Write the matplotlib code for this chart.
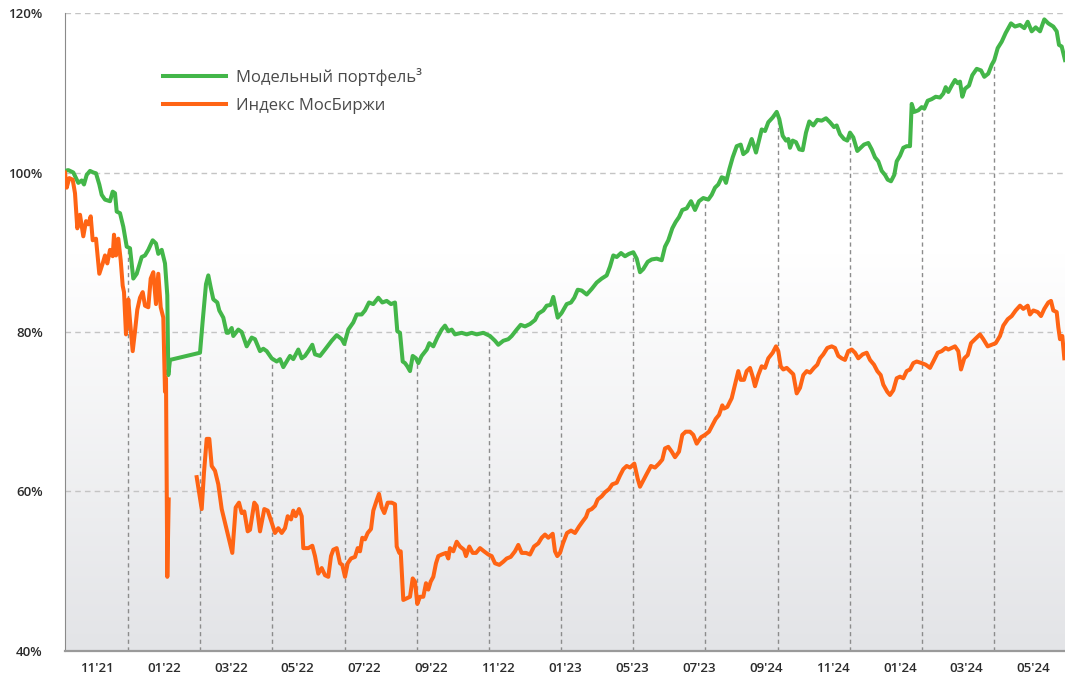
import numpy as np
import matplotlib.pyplot as plt
from matplotlib.colors import LinearSegmentedColormap

# time index (0..1000 across the chart) and values in %
model_t = [0, 3.3, 8.3, 13.3, 16.7, 19, 21.7, 25, 28.3, 31, 34.3, 36.7, 40, 45, 47.7, 50,
           51.7, 55, 58.3, 61.7, 65, 68.3, 71.7, 76.7, 80, 83.3, 87.7, 91, 93.3, 96.7, 100,
           102.3, 103.3, 105, 135, 137.7, 141, 143.3, 145.7, 148.3, 152.3, 154.3, 158.3,
           161.7, 163.3, 166.7, 168.3, 173.3, 176.7, 181.7, 186.7, 190, 195, 198.3, 201.7,
           206.7, 211.7, 215, 218.3, 221.7, 225, 228.3, 233.3, 236.7, 240, 243.3, 247.3,
           250, 255, 260, 266.7, 271.7, 276.7, 279.3, 283.3, 288.3, 291.7, 296.7, 300, 304,
           308.3, 313.3, 317.3, 321.7, 326, 330, 332.3, 335, 337.7, 340, 342.3, 345, 347.7,
           351, 353.3, 356.7, 361.7, 364.3, 368.3, 372.3, 376.7, 380, 383.3, 386.7, 390,
           396.7, 401.7, 406.7, 411.7, 418.3, 425, 430, 433.3, 438.3, 443.3, 446.7, 451.7,
           455.7, 460, 465, 470, 473.3, 478.3, 481.7, 485.7, 488.3, 492.7, 496.7, 501.7, 506,
           509.3, 512.7, 516.7, 521.7, 526.7, 531.7, 536.7, 541.7, 545, 548.3, 551.7, 556,
           560, 564, 568.3, 571.7, 575, 578.3, 582.7, 586.7, 591.7, 596.7, 600, 603.3, 607.3,
           610.7, 614, 617.3, 621.7, 626, 630, 634, 638.3, 643.3, 646.7, 650, 653.3, 656.7,
           659, 661, 664.3, 667.7, 671.7, 675.7, 678.3, 682.3, 686.7, 688.3, 691, 694.3,
           696.7, 700, 703.3, 707.7, 711.7, 714.3, 717.7, 721, 723.3, 725, 727.7, 731, 734.3,
           737.7, 741, 744.3, 748.3, 752.3, 756.7, 761, 765, 769, 771.7, 775, 779, 782.3, 785,
           788.3, 792.3, 795.7, 799, 803.3, 806.7, 810, 813.3, 816.7, 820, 822.7, 826, 829.3,
           831.7, 835, 838.3, 841.7, 845, 846.7, 849.3, 853.3, 856.7, 859.3, 862.7, 866.7,
           870.7, 875, 878.3, 880.7, 883.3, 886.7, 890, 892.7, 895, 897.3, 900, 904, 907.3,
           911.7, 916, 919.3, 923.3, 926.7, 929.3, 932.7, 936.7, 940.7, 946, 950, 955, 959.3,
           962.7, 966.7, 970.7, 975, 979.3, 983.3, 988.3, 991.7, 994, 996.7, 1000]
model_v = [100.2, 100.3, 100.0, 98.7, 99.0, 98.5, 99.7, 100.2, 100.0, 99.9, 98.5, 97.2, 96.6,
           96.4, 97.6, 97.4, 95.1, 94.9, 93.2, 90.7, 90.5, 86.7, 87.3, 89.4, 89.6, 90.3, 91.5,
           91.1, 89.8, 90.3, 88.6, 84.6, 74.6, 76.5, 77.4, 81.4, 86.0, 87.1, 85.6, 84.1, 83.7,
           82.7, 81.8, 79.9, 79.9, 80.5, 79.5, 80.3, 80.0, 78.2, 79.3, 79.1, 77.6, 77.9, 77.6,
           76.7, 76.3, 76.6, 75.6, 76.3, 77.0, 76.6, 77.8, 76.7, 77.0, 77.6, 78.4, 77.2, 77.0,
           77.8, 78.9, 79.6, 79.1, 78.5, 80.3, 81.2, 82.2, 82.2, 82.7, 83.7, 83.5, 84.3, 83.7,
           83.9, 83.5, 83.7, 80.1, 79.9, 76.3, 76.1, 75.7, 75.1, 77.0, 76.7, 76.1, 77.0, 77.8,
           78.6, 78.2, 79.3, 80.3, 80.8, 80.1, 80.3, 79.7, 79.9, 79.7, 79.9, 79.7, 79.9, 79.5,
           78.9, 78.4, 78.9, 79.1, 79.5, 80.3, 80.9, 80.7, 81.0, 81.5, 82.3, 82.7, 83.3, 83.4,
           84.4, 81.8, 82.4, 83.5, 83.7, 84.3, 85.3, 85.2, 84.7, 85.4, 86.2, 86.7, 87.1, 88.2,
           89.6, 89.4, 89.9, 89.5, 89.8, 90.0, 89.2, 87.5, 87.9, 88.8, 89.1, 89.2, 89.0, 90.7,
           91.5, 93.0, 93.8, 94.4, 95.3, 95.5, 96.4, 95.3, 96.4, 96.8, 96.6, 97.2, 98.1, 98.5,
           99.4, 99.3, 98.7, 100.4, 101.9, 103.3, 103.5, 102.3, 102.7, 104.2, 103.6, 102.5,
           104.2, 105.4, 105.2, 106.3, 106.9, 107.6, 106.7, 104.6, 104.0, 104.2, 103.1, 104.0,
           103.8, 102.9, 102.8, 105.0, 106.4, 105.9, 106.6, 106.5, 106.8, 106.3, 105.7, 105.9,
           104.8, 104.2, 104.0, 105.0, 104.4, 102.7, 103.1, 103.5, 103.7, 102.9, 101.9, 101.4,
           100.2, 99.7, 99.1, 98.9, 99.7, 101.4, 102.1, 103.1, 103.3, 103.3, 108.6, 107.6,
           107.8, 108.2, 108.0, 109.0, 109.2, 109.5, 109.4, 109.9, 110.7, 110.1, 110.9, 111.6,
           111.2, 111.4, 109.5, 110.5, 110.9, 112.2, 113.0, 112.8, 112.0, 112.4, 113.5, 114.1,
           115.6, 116.4, 117.5, 118.7, 118.3, 118.5, 118.1, 118.9, 117.7, 118.2, 117.7, 119.2,
           118.7, 118.3, 117.7, 116.0, 115.8, 114.1]

moex_t = [0, 1.7, 4.3, 7.7, 10, 12.3, 15, 18.3, 21, 23.3, 25.7, 27.7, 31, 34.3, 37.7, 40, 42.3,
          45, 47.7, 49, 51, 53.3, 55.7, 57.7, 59, 61, 63.3, 65, 67.7, 70, 72.3, 75, 77.7, 80,
          83.3, 85.7, 88.3, 91, 93.3, 95.7, 98.3, 100, 101, 102.3, 103.7, 115, 131.7, 136.7,
          139, 141.7, 144.3, 146.7, 150, 153.3, 156.7, 160, 163.3, 167.3, 170.7, 174, 176.7,
          179.3, 182.7, 185, 189.3, 191.7, 195, 199.3, 202.7, 206.7, 210, 213.3, 216.7, 220,
          222.7, 226, 228.3, 230.7, 234, 236.7, 238.3, 243.3, 247.3, 250, 253.3, 256.7, 260,
          263.3, 266, 268.3, 271.7, 275, 277.3, 280, 282.7, 286, 290, 292.7, 295, 297.3, 300,
          302.7, 306, 308.3, 311.7, 314, 316.7, 319.3, 322.7, 326.7, 330, 331.7, 334.3, 335.7,
          338.3, 341.7, 345, 347.7, 350, 352.3, 355, 358.3, 361, 363.3, 365.7, 368.3, 371,
          373.3, 376.7, 381, 383.3, 385, 388.3, 391.7, 395, 399, 401, 404.3, 407.7, 411, 415,
          419, 423.3, 426.7, 430, 434.3, 438.3, 441.7, 445.7, 450, 453.3, 456.7, 461, 465, 469,
          473.3, 476.7, 480, 483.3, 487.7, 490, 492.3, 495, 498, 502, 506, 510, 514, 518, 521,
          523.3, 526.7, 530, 532.7, 536.7, 540, 544, 547.3, 551.7, 555, 558.3, 561.7, 565,
          569.3, 572.7, 575, 578.3, 581.7, 586, 590, 594, 597.3, 600, 603.3, 606.7, 610, 614,
          617.3, 620.7, 625, 628.3, 631.7, 636, 640, 644, 647.3, 650.7, 654, 657.3, 659, 662.3,
          666.7, 670, 673.3, 675.7, 679, 681.7, 685, 687.7, 690, 693.3, 696.7, 700, 703.3,
          707.7, 711, 713.3, 715.7, 718.3, 721.7, 725, 728.3, 731.7, 735, 738.3, 741.7, 745,
          749, 752.3, 755, 758.3, 762.3, 766.7, 770, 773.3, 776.7, 780, 783.3, 786.7, 790,
          793.3, 797.7, 801.7, 805, 809, 812.3, 815.7, 818.3, 822.3, 825, 828.3, 831.7, 835,
          838.3, 841.7, 845, 848.3, 851.7, 856.7, 860.7, 865, 868.3, 872.7, 876.7, 880.7,
          883.3, 886.7, 890, 893.3, 896, 899.3, 902.7, 906, 910, 915, 918.3, 922.7, 926.7,
          930.7, 935, 938.3, 942.7, 946.7, 950.7, 955, 958.3, 962.7, 965, 968.3, 972.7, 976,
          979.3, 983.3, 986, 988.3, 991.7, 993.3, 995, 997.3, 999.3]
moex_v = [100.0, 98.1, 99.3, 99.1, 97.4, 93.0, 94.7, 92.0, 93.9, 93.5, 94.5, 91.5, 91.7, 87.3,
          88.6, 89.6, 88.6, 90.3, 89.5, 92.2, 89.6, 91.7, 89.0, 85.8, 85.0, 79.7, 84.1, 81.4,
          77.6, 80.1, 82.8, 84.3, 85.0, 83.3, 83.1, 86.7, 87.5, 83.5, 87.3, 83.1, 81.8, 72.5,
          74.2, 49.3, 59.0, np.nan, 61.8, 57.8, 62.4, 66.6, 66.6, 63.2, 62.6, 60.9, 57.8, 56.1,
          54.4, 52.3, 58.0, 58.6, 57.3, 57.5, 55.0, 55.2, 58.6, 58.2, 55.0, 57.8, 57.6, 56.1,
          54.8, 55.4, 54.8, 55.4, 56.9, 56.5, 57.6, 56.9, 57.8, 56.9, 52.9, 52.9, 53.2, 51.9,
          49.7, 50.4, 49.5, 49.3, 51.9, 52.7, 52.9, 51.0, 50.8, 49.3, 51.0, 51.6, 51.8, 52.9,
          52.5, 54.2, 54.0, 54.8, 55.3, 57.6, 58.9, 59.7, 58.0, 57.3, 58.6, 58.6, 58.4, 53.1,
          52.3, 52.5, 46.4, 46.6, 46.8, 49.1, 48.7, 45.9, 46.8, 46.8, 48.5, 47.7, 48.7, 49.3,
          51.0, 51.9, 52.1, 52.3, 51.6, 52.9, 52.5, 53.7, 53.1, 52.7, 51.9, 53.1, 52.3, 52.3,
          52.9, 52.5, 52.1, 51.9, 51.0, 50.8, 51.2, 51.6, 51.8, 52.5, 53.3, 52.3, 52.3, 52.1,
          53.1, 53.5, 54.2, 54.6, 54.2, 54.7, 52.5, 51.9, 52.3, 53.5, 54.8, 55.1, 54.8, 55.6,
          56.3, 56.8, 57.6, 57.8, 58.2, 59.0, 59.4, 59.9, 60.3, 60.9, 61.1, 62.0, 62.8, 63.2,
          63.0, 63.5, 61.6, 60.6, 61.4, 62.2, 63.2, 63.0, 63.5, 64.0, 65.4, 65.6, 65.0, 64.3,
          65.0, 67.1, 67.5, 67.5, 67.1, 66.0, 66.8, 67.1, 67.5, 68.3, 69.1, 69.6, 70.8, 70.4,
          70.6, 71.7, 73.4, 75.1, 74.0, 74.0, 75.1, 75.5, 74.4, 73.2, 74.6, 75.7, 75.5, 76.7,
          77.4, 78.2, 77.6, 75.7, 75.3, 75.5, 75.1, 74.7, 72.3, 73.0, 74.6, 75.1, 74.9, 75.5,
          75.9, 76.7, 77.2, 78.0, 78.2, 78.0, 77.0, 76.7, 76.5, 77.6, 77.8, 77.4, 76.7, 77.2,
          77.4, 76.5, 75.9, 75.1, 74.6, 73.4, 72.5, 72.1, 72.7, 74.2, 74.4, 74.2, 75.1, 75.3,
          76.1, 76.3, 76.1, 75.9, 75.5, 76.3, 77.4, 77.6, 78.0, 77.8, 78.0, 78.2, 77.6, 75.3,
          76.7, 77.1, 78.6, 79.1, 79.7, 79.1, 78.2, 78.4, 78.6, 79.5, 80.8, 81.6, 82.0, 82.7,
          83.3, 82.9, 83.3, 82.2, 82.7, 82.5, 82.0, 82.9, 83.7, 83.9, 82.7, 82.5, 80.6, 79.1,
          79.5, 76.7]

month_labels = ["11'21", "01'22", "03'22", "05'22", "07'22", "09'22", "11'22", "01'23",
                "05'23", "07'23", "09'24", "11'24", "01'24", "03'24", "05'24"]
y_ticks = [40, 60, 80, 100, 120]
series_names = ["Модельный портфель³", "Индекс МосБиржи"]

GREEN = "#43b649"
ORANGE = "#ff6414"

plt.rcParams["font.family"] = ["Open Sans", "DejaVu Sans"]

fig = plt.figure(figsize=(10.65, 6.75), dpi=100)
ax = fig.add_axes([65 / 1065, 1 - 651 / 675, 1000 / 1065, 638 / 675])
ax.set_xlim(0, 1000)
ax.set_ylim(40, 120)

# background gradient, white on top, grey towards the bottom
cmap = LinearSegmentedColormap.from_list("bg", ["#e3e4e7", "#ffffff"])
grad = np.clip(np.linspace(0, 1, 256) * 1.6, 0, 1).reshape(-1, 1)
ax.imshow(grad, extent=[0, 1000, 40, 120], origin="lower", aspect="auto",
          cmap=cmap, zorder=0)

# horizontal grid
for yv in y_ticks[1:]:
    ax.axhline(yv, color="#c4c4c4", lw=1, ls=(0, (4, 3)), zorder=1)

# vertical grid lines, drawn from the bottom up to the model line
grid_t = 63 + 72.17 * np.arange(13)
ax.vlines(grid_t, 40, np.interp(grid_t, model_t, model_v), color="#8c8c8c",
          lw=1, ls=(0, (3, 2.5)), zorder=1)

ax.plot(model_t, model_v, color=GREEN, lw=2.9, label=series_names[0], zorder=3,
        solid_joinstyle="round")
ax.plot(moex_t, moex_v, color=ORANGE, lw=2.9, label=series_names[1], zorder=3,
        solid_joinstyle="round")

for s in ["top", "right"]:
    ax.spines[s].set_visible(False)
ax.spines["left"].set_color("#8a8a8a")
ax.spines["bottom"].set_color("#9a9a9a")
ax.spines["bottom"].set_linewidth(1.6)

ax.set_yticks(y_ticks)
ax.set_yticklabels([f"{v}%" for v in y_ticks])
ax.set_xticks(np.linspace(32, 968.6, len(month_labels)))
ax.set_xticklabels(month_labels)
ax.tick_params(axis="y", length=0, pad=16, labelsize=9.5, labelcolor="#2b2b2b")
ax.tick_params(axis="x", length=0, pad=8, labelsize=9.5, labelcolor="#2b2b2b")
for lab in ax.get_xticklabels() + ax.get_yticklabels():
    lab.set_fontweight("semibold")

ax.legend(loc="upper left", bbox_to_anchor=(0.098, 0.914), frameon=False,
          fontsize=12, handlelength=3.8, handletextpad=0.6, labelspacing=0.7,
          borderpad=0, borderaxespad=0, labelcolor="#4a4a4a")

fig.savefig("out.png", dpi=100)
